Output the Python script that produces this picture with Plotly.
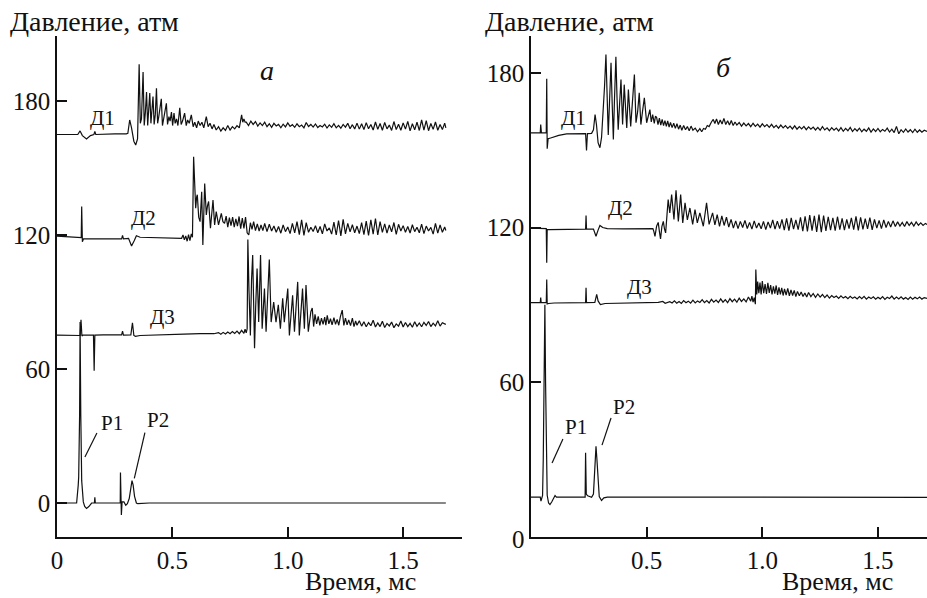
import plotly.graph_objects as go

# Pressure traces, (time in ms, pressure in atm)
# Panel "а"
a_d1 = [(0, 165), (0.09, 165), (0.1, 166.6), (0.11, 164.5), (0.128, 163), (0.145, 164.5), (0.16, 165),
        (0.164, 166.4), (0.168, 165), (0.2, 165.2), (0.25, 165.3), (0.30, 165.3), (0.307, 165.5),
        (0.315, 171.5), (0.323, 168), (0.333, 162), (0.341, 160.3), (0.349, 163), (0.356, 196.5),
        (0.361, 170), (0.366, 172), (0.373, 193), (0.378, 169), (0.383, 175), (0.388, 184), (0.393, 169),
        (0.398, 176), (0.402, 183.6), (0.407, 170), (0.412, 177), (0.416, 182), (0.421, 169.5),
        (0.426, 174), (0.431, 185.7), (0.436, 170), (0.441, 173), (0.446, 176), (0.452, 181), (0.457, 169),
        (0.462, 172), (0.468, 175), (0.474, 179), (0.479, 169.5), (0.485, 173), (0.49, 171), (0.496, 175),
        (0.501, 169), (0.507, 174.6), (0.512, 170), (0.518, 172), (0.524, 169), (0.532, 177),
        (0.538, 169.5), (0.544, 171), (0.553, 174.6), (0.56, 169), (0.566, 171.5), (0.573, 170),
        (0.582, 173.8), (0.59, 168.5), (0.597, 170.5), (0.605, 168), (0.612, 171), (0.62, 169),
        (0.628, 170.5), (0.636, 168), (0.647, 173), (0.655, 168.5), (0.663, 170), (0.672, 167.5),
        (0.68, 169.5), (0.69, 167), (0.70, 168.5), (0.71, 166.5), (0.72, 168), (0.73, 166.8), (0.74, 169),
        (0.75, 167), (0.76, 168.5), (0.77, 167.5), (0.78, 169), (0.79, 168), (0.80, 173.8), (0.805, 170.5),
        (0.81, 172), (0.815, 170.5), (0.82, 170.5), (0.83, 169), (0.84, 171), (0.85, 169.5), (0.86, 170.8),
        (0.87, 168.8), (0.88, 170.2), (0.89, 169), (0.90, 170.5), (0.91, 168.5), (0.92, 169.8),
        (0.93, 168.2), (0.94, 170), (0.95, 168.8), (0.96, 169.5), (0.97, 168), (0.98, 169.6), (0.99, 168.4),
        (1.00, 170.2), (1.01, 168.6), (1.02, 169.4), (1.03, 168.2), (1.04, 169.8), (1.05, 168.5),
        (1.06, 169.2), (1.07, 168), (1.08, 170.4), (1.09, 168.6), (1.10, 169.5), (1.11, 168.3),
        (1.12, 169.7), (1.13, 168.1), (1.14, 169), (1.15, 168.4), (1.16, 169.6), (1.17, 167.9),
        (1.18, 169.3), (1.19, 168.2), (1.20, 169.8), (1.21, 168), (1.22, 169.1), (1.23, 167.8),
        (1.24, 169.5), (1.25, 168.3), (1.26, 170), (1.27, 167.6), (1.28, 169.4), (1.29, 167.5),
        (1.30, 170.1), (1.31, 167.4), (1.32, 169.8), (1.33, 167.2), (1.34, 170.3), (1.35, 167.6),
        (1.36, 169.5), (1.37, 167), (1.38, 170.6), (1.39, 167.3), (1.40, 169.9), (1.41, 166.9),
        (1.42, 170.4), (1.43, 167.5), (1.44, 169.2), (1.45, 166.8), (1.46, 170.8), (1.47, 167.2),
        (1.48, 169.6), (1.49, 166.9), (1.50, 170.2), (1.51, 167.4), (1.52, 170.9), (1.53, 166.6),
        (1.54, 169.8), (1.55, 167.1), (1.56, 170.5), (1.57, 166.8), (1.58, 171.5), (1.59, 167),
        (1.60, 171.2), (1.61, 166.7), (1.62, 169.9), (1.63, 167.3), (1.64, 170.6), (1.65, 166.9),
        (1.66, 169.5), (1.67, 167.2), (1.68, 170.1), (1.685, 168)]

a_d2 = [(0, 119.5), (0.1, 118.8), (0.105, 118.8), (0.107, 132.7), (0.11, 117), (0.115, 118.3),
        (0.2, 118.2), (0.28, 118.3), (0.284, 119.8), (0.288, 118.3), (0.31, 118.5), (0.323, 115.1),
        (0.335, 117.5), (0.344, 119.7), (0.36, 119), (0.4, 118.9), (0.45, 118.7), (0.5, 118.6),
        (0.54, 118.5), (0.546, 120), (0.552, 117.8), (0.558, 119.6), (0.564, 117.2), (0.57, 120.2),
        (0.576, 117.5), (0.582, 120.5), (0.587, 119), (0.592, 155), (0.596, 140), (0.601, 132),
        (0.605, 137), (0.608, 138), (0.614, 128), (0.62, 126), (0.627, 139.4), (0.632, 115.5),
        (0.64, 143), (0.647, 129), (0.652, 133), (0.657, 135), (0.665, 123), (0.676, 135.7),
        (0.683, 124.5), (0.69, 130.5), (0.70, 124.5), (0.706, 127), (0.712, 129.7), (0.719, 126),
        (0.726, 125.2), (0.733, 128.5), (0.74, 123.5), (0.747, 127.8), (0.754, 124.2), (0.761, 128),
        (0.768, 123.5), (0.775, 127.2), (0.782, 124), (0.789, 128.3), (0.796, 122.8), (0.803, 127.6),
        (0.81, 123), (0.817, 128), (0.824, 121), (0.831, 120), (0.838, 125.5), (0.845, 122.5),
        (0.852, 126), (0.86, 122), (0.868, 125), (0.876, 121.8), (0.884, 124.5), (0.892, 122),
        (0.9, 125.2), (0.91, 121.5), (0.92, 124.8), (0.93, 121.8), (0.94, 124), (0.95, 121.2),
        (0.96, 123.8), (0.97, 120.8), (0.98, 124.5), (0.99, 121.5), (1.00, 123.6), (1.01, 120.6),
        (1.02, 125.2), (1.03, 121), (1.04, 126), (1.05, 120.2), (1.06, 126.8), (1.07, 119.8),
        (1.08, 125.5), (1.09, 121.2), (1.10, 123.5), (1.11, 121.6), (1.12, 124.2), (1.13, 121),
        (1.14, 123.8), (1.15, 120.5), (1.16, 125), (1.17, 121.8), (1.18, 123.2), (1.19, 120.4),
        (1.20, 125.8), (1.21, 120), (1.22, 126.5), (1.23, 119.6), (1.24, 127), (1.25, 120.5),
        (1.26, 125.2), (1.27, 121.4), (1.28, 124.6), (1.29, 121), (1.30, 124), (1.31, 120.6),
        (1.32, 125.5), (1.33, 120.2), (1.34, 126.2), (1.35, 119.8), (1.36, 126.8), (1.37, 120.4),
        (1.38, 127.4), (1.39, 120), (1.40, 126), (1.41, 121.2), (1.42, 125), (1.43, 120.8),
        (1.44, 124.5), (1.45, 121.4), (1.46, 125.6), (1.47, 120.3), (1.48, 124.8), (1.49, 121.8),
        (1.50, 124.2), (1.51, 121.2), (1.52, 123.8), (1.53, 120.9), (1.54, 124.6), (1.55, 121.5),
        (1.56, 123.5), (1.57, 121), (1.58, 124.9), (1.59, 120.6), (1.60, 124), (1.61, 121.8),
        (1.62, 123.4), (1.63, 120.4), (1.64, 125.2), (1.65, 120.8), (1.66, 124.5), (1.67, 121.2),
        (1.68, 123.6), (1.685, 122)]

a_d3 = [(0, 75.2), (0.095, 75.2), (0.1, 75), (0.104, 82), (0.108, 74.8), (0.112, 75.2), (0.158, 75.2),
        (0.161, 59.2), (0.164, 75.2), (0.2, 75.3), (0.28, 75.3), (0.284, 77), (0.288, 75.2), (0.32, 75.3),
        (0.327, 80.7), (0.333, 75), (0.34, 74.6), (0.36, 75), (0.45, 75.4), (0.55, 75.6), (0.62, 75.8),
        (0.68, 75.8), (0.7, 76.3), (0.71, 75.6), (0.72, 76.4), (0.73, 75.7), (0.74, 76.6), (0.75, 75.8),
        (0.76, 76.8), (0.77, 75.9), (0.78, 77), (0.79, 75.8), (0.80, 77.3), (0.81, 76), (0.815, 77.8),
        (0.82, 76.2), (0.824, 78), (0.827, 118), (0.832, 95), (0.838, 75), (0.843, 100), (0.848, 111),
        (0.852, 90), (0.856, 69.3), (0.861, 88), (0.867, 105), (0.874, 81), (0.882, 111), (0.889, 78),
        (0.894, 90), (0.899, 96), (0.906, 76.7), (0.913, 95), (0.92, 109), (0.928, 81), (0.939, 90),
        (0.949, 81), (0.959, 88.7), (0.968, 78), (0.978, 91.7), (0.985, 81), (0.993, 89), (1.0, 96),
        (1.007, 75), (1.014, 86), (1.021, 93), (1.029, 76.7), (1.036, 88), (1.043, 99), (1.05, 75),
        (1.057, 87), (1.064, 96), (1.072, 78), (1.079, 97.6), (1.089, 76.7), (1.095, 83), (1.1, 85.7),
        (1.106, 87.3), (1.112, 79), (1.118, 84.5), (1.125, 80.2), (1.132, 83.6), (1.139, 79.5),
        (1.146, 82.8), (1.153, 80), (1.16, 83.2), (1.165, 79.6), (1.171, 84), (1.178, 80.2),
        (1.185, 82.5), (1.192, 79.8), (1.2, 83), (1.207, 80), (1.214, 82.2), (1.221, 79.6),
        (1.228, 83.5), (1.236, 86.4), (1.243, 79.5), (1.25, 82.8), (1.257, 79.8), (1.264, 82),
        (1.272, 79.4), (1.28, 82.8), (1.287, 79), (1.294, 81.5), (1.3, 79.6), (1.31, 81.6), (1.32, 79.2),
        (1.33, 81.2), (1.34, 78.9), (1.35, 80.8), (1.36, 79.4), (1.37, 81.8), (1.38, 78.8), (1.39, 80.6),
        (1.40, 79), (1.41, 81.4), (1.42, 78.6), (1.43, 80.4), (1.44, 79.3), (1.45, 81), (1.46, 78.5),
        (1.47, 80.2), (1.48, 79.2), (1.49, 81.5), (1.50, 78.8), (1.51, 80.8), (1.52, 79), (1.53, 80.4),
        (1.54, 78.7), (1.55, 81.2), (1.56, 79.1), (1.57, 80.6), (1.58, 78.9), (1.59, 80.9), (1.60, 79.5),
        (1.61, 81.3), (1.62, 79), (1.63, 80.5), (1.64, 79.3), (1.65, 81.6), (1.66, 79.2), (1.67, 80.7),
        (1.68, 80.2), (1.685, 80)]

a_p = [(0, 0), (0.085, 0), (0.092, 8), (0.094, 11.7), (0.098, 40), (0.1, 81), (0.103, 40), (0.107, 10),
       (0.114, 0.5), (0.12, -1.5), (0.128, -2.4), (0.138, -1.6), (0.15, 0), (0.162, 0), (0.164, 2.5),
       (0.166, 0), (0.2, 0), (0.274, 0), (0.275, 13.7), (0.278, 0), (0.279, -5.4), (0.282, 0.5),
       (0.29, 0.5), (0.298, -1), (0.305, -0.3), (0.313, 2), (0.319, 7), (0.325, 10), (0.33, 8),
       (0.336, 3), (0.344, 0), (0.35, -0.3), (0.4, 0), (0.6, 0), (0.8, 0.2), (1.0, -0.1), (1.2, 0),
       (1.4, 0.1), (1.6, -0.1), (1.685, 0)]

# Panel "б"
b_d1 = [(0, 156.8), (0.04, 156.8), (0.042, 160), (0.045, 156.8), (0.066, 156.8), (0.068, 177.8),
        (0.07, 150.6), (0.074, 154.5), (0.085, 154.8), (0.1, 155.2), (0.12, 155.8), (0.154, 156.4),
        (0.2, 156.5), (0.236, 156.5), (0.24, 149.9), (0.244, 156.5), (0.262, 156.6), (0.27, 158),
        (0.277, 163.9), (0.283, 160), (0.29, 153), (0.298, 151), (0.305, 155), (0.312, 165), (0.318, 175),
        (0.324, 187.2), (0.329, 170), (0.334, 156), (0.34, 170), (0.346, 184), (0.351, 168),
        (0.356, 154.2), (0.361, 170), (0.367, 186.3), (0.372, 170), (0.377, 158), (0.383, 168),
        (0.389, 177.5), (0.396, 160), (0.403, 175.5), (0.414, 158.7), (0.421, 173.6), (0.431, 159.3),
        (0.437, 166), (0.447, 179.4), (0.454, 160.7), (0.461, 165), (0.468, 172.3), (0.475, 160),
        (0.482, 165), (0.49, 170.4), (0.5, 160.7), (0.507, 164), (0.514, 165.8), (0.52, 161),
        (0.526, 163.9), (0.533, 160.5), (0.538, 163.2), (0.543, 162.8), (0.549, 160), (0.555, 162.5),
        (0.561, 159.8), (0.567, 162), (0.573, 159.6), (0.579, 161.5), (0.585, 159.3), (0.591, 161.4),
        (0.597, 159), (0.603, 160.8), (0.61, 158.8), (0.617, 160.5), (0.624, 158.5), (0.631, 160.3),
        (0.638, 158.2), (0.645, 159.8), (0.652, 157.8), (0.66, 159.6), (0.668, 158), (0.676, 159.2),
        (0.684, 157.6), (0.692, 159.4), (0.7, 157.8), (0.71, 158.6), (0.72, 157.2), (0.73, 158.4),
        (0.738, 157.2), (0.746, 158.5), (0.754, 158.2), (0.762, 159.6), (0.77, 159.2), (0.78, 161),
        (0.788, 162), (0.795, 160.4), (0.802, 162.2), (0.81, 160), (0.818, 161.8), (0.826, 160.2),
        (0.834, 162.4), (0.842, 160), (0.85, 161.5), (0.858, 159.8), (0.866, 161.6), (0.874, 159.6),
        (0.882, 161), (0.89, 159.8), (0.9, 160.8), (0.91, 159.4), (0.92, 160.6), (0.93, 159.5),
        (0.94, 160.4), (0.95, 159.2), (0.96, 160.5), (0.97, 159.3), (0.98, 160.2), (0.99, 159),
        (1.00, 160.3), (1.01, 159.2), (1.02, 160), (1.03, 158.9), (1.04, 160.1), (1.05, 158.8),
        (1.06, 159.7), (1.07, 158.6), (1.08, 159.8), (1.09, 158.7), (1.10, 159.6), (1.11, 158.5),
        (1.12, 159.4), (1.13, 158.3), (1.14, 159.5), (1.15, 158.2), (1.16, 159.2), (1.17, 158.3),
        (1.18, 159.3), (1.19, 158), (1.20, 159.1), (1.21, 158.2), (1.22, 159), (1.23, 157.9),
        (1.24, 158.9), (1.25, 157.8), (1.26, 159.2), (1.27, 157.9), (1.28, 158.7), (1.29, 157.6),
        (1.30, 158.8), (1.31, 157.8), (1.32, 158.6), (1.33, 157.5), (1.34, 158.8), (1.35, 157.4),
        (1.36, 158.5), (1.37, 157.6), (1.38, 158.9), (1.39, 157.3), (1.40, 158.4), (1.41, 157.5),
        (1.42, 158.6), (1.43, 157.2), (1.44, 158.2), (1.45, 157.4), (1.46, 158.7), (1.47, 157.1),
        (1.48, 158.3), (1.49, 157.3), (1.50, 158.5), (1.51, 157.2), (1.52, 158.1), (1.53, 157.4),
        (1.54, 158.6), (1.55, 157.1), (1.56, 158.2), (1.57, 156.9), (1.58, 159.3), (1.59, 156.4),
        (1.60, 158), (1.61, 157), (1.62, 158.3), (1.63, 157.1), (1.64, 158), (1.65, 156.9),
        (1.66, 158.2), (1.67, 157), (1.68, 157.9), (1.69, 157), (1.70, 157.8), (1.712, 157.3)]

b_d2 = [(0, 119.8), (0.064, 119.6), (0.066, 119.6), (0.068, 106.3), (0.07, 119.2), (0.08, 119.2),
        (0.236, 119.4), (0.238, 124.7), (0.24, 119.4), (0.27, 119.4), (0.276, 118), (0.281, 116.6),
        (0.29, 119), (0.298, 120.8), (0.31, 120), (0.33, 119.6), (0.4, 119.5), (0.48, 119.4),
        (0.527, 119.6), (0.531, 118.5), (0.536, 116.6), (0.543, 120.5), (0.55, 122), (0.555, 118.5),
        (0.56, 115.6), (0.566, 120.5), (0.572, 122.4), (0.577, 119.5), (0.582, 117.9), (0.588, 125),
        (0.593, 130.9), (0.6, 125.7), (0.608, 132.8), (0.618, 123.1), (0.627, 134.5), (0.637, 122.4),
        (0.647, 132.8), (0.656, 121.8), (0.666, 129.6), (0.676, 123), (0.687, 127.6), (0.699, 121.2),
        (0.709, 127), (0.719, 121.8), (0.73, 125.7), (0.745, 120.5), (0.759, 129.6), (0.77, 121.2),
        (0.785, 125.7), (0.795, 121), (0.805, 125), (0.815, 120.5), (0.825, 124.5), (0.835, 120.8),
        (0.845, 124), (0.855, 120.2), (0.865, 123.2), (0.875, 119.8), (0.885, 122.6), (0.895, 119.6),
        (0.905, 122.4), (0.915, 120), (0.925, 122.8), (0.935, 119.6), (0.945, 122), (0.955, 119.4),
        (0.965, 122.6), (0.975, 119.8), (0.985, 121.8), (0.995, 119.5), (1.005, 122.4), (1.015, 119.2),
        (1.025, 122.2), (1.035, 119.8), (1.045, 123), (1.055, 119.4), (1.065, 122.5), (1.075, 119.6),
        (1.085, 123.2), (1.095, 119), (1.105, 123.6), (1.115, 118.8), (1.125, 123.8), (1.135, 119.4),
        (1.145, 123), (1.155, 119.2), (1.165, 124), (1.175, 118.6), (1.185, 124.4), (1.195, 118.5),
        (1.205, 124.8), (1.215, 118.8), (1.225, 124.5), (1.235, 118.3), (1.245, 125), (1.255, 118.2),
        (1.265, 124.6), (1.275, 118.7), (1.285, 124.2), (1.295, 119), (1.305, 123.8), (1.315, 118.8),
        (1.325, 124.2), (1.335, 119.2), (1.345, 123.6), (1.355, 119), (1.365, 123.2), (1.375, 119.6),
        (1.385, 123.8), (1.395, 119.2), (1.405, 124.3), (1.415, 118.9), (1.425, 124), (1.435, 119.3),
        (1.445, 123.5), (1.455, 119.5), (1.465, 123.9), (1.475, 119.1), (1.485, 123.2), (1.495, 119.8),
        (1.505, 122.8), (1.515, 119.6), (1.525, 123), (1.535, 120), (1.545, 122.4), (1.555, 120.2),
        (1.565, 122.6), (1.575, 120.4), (1.585, 122.2), (1.595, 120.6), (1.605, 122), (1.615, 120.4),
        (1.625, 122.3), (1.635, 120.8), (1.645, 122), (1.655, 120.6), (1.665, 122.2), (1.675, 120.9),
        (1.685, 121.8), (1.695, 120.8), (1.705, 121.6), (1.712, 121.2)]

b_d3 = [(0, 90.8), (0.04, 90.8), (0.042, 92.8), (0.044, 90.8), (0.066, 90.8), (0.068, 99.8), (0.07, 90.3),
        (0.076, 90.5), (0.1, 90.7), (0.236, 90.8), (0.238, 96.6), (0.24, 90.8), (0.276, 90.9),
        (0.284, 94), (0.29, 91.5), (0.3, 90.1), (0.32, 90.5), (0.4, 90.6), (0.5, 90.8), (0.55, 90.9),
        (0.57, 91.3), (0.58, 90.6), (0.6, 91.2), (0.61, 90.7), (0.62, 91.5), (0.63, 90.6), (0.64, 91.3),
        (0.65, 90.5), (0.66, 91.6), (0.67, 90.8), (0.68, 91.4), (0.69, 90.6), (0.70, 91.8), (0.71, 90.7),
        (0.72, 91.5), (0.73, 90.9), (0.74, 92), (0.75, 90.8), (0.76, 91.6), (0.77, 90.7), (0.78, 92.1),
        (0.79, 91), (0.80, 91.8), (0.81, 90.9), (0.82, 92.3), (0.83, 91), (0.84, 92), (0.85, 90.8),
        (0.86, 92.4), (0.87, 91.2), (0.88, 92.2), (0.89, 91), (0.90, 92.6), (0.91, 91.3), (0.92, 92.3),
        (0.93, 91.1), (0.94, 93), (0.95, 91.4), (0.955, 93.4), (0.96, 91), (0.965, 92.8), (0.97, 90.2),
        (0.972, 103.7), (0.976, 94), (0.98, 99), (0.985, 94.5), (0.99, 98.6), (0.995, 94), (1.0, 99.2),
        (1.006, 94.5), (1.012, 98), (1.018, 94.2), (1.024, 98.5), (1.03, 94.6), (1.036, 97.6),
        (1.042, 94), (1.048, 97.2), (1.054, 94.3), (1.06, 97.5), (1.066, 93.8), (1.072, 96.8),
        (1.078, 94), (1.084, 96.6), (1.09, 93.6), (1.096, 96.2), (1.103, 93.8), (1.11, 96.4),
        (1.117, 93.5), (1.124, 95.8), (1.131, 93.6), (1.138, 95.6), (1.145, 93.2), (1.152, 95.2),
        (1.16, 93.5), (1.168, 95), (1.176, 93.2), (1.184, 94.6), (1.192, 93), (1.2, 94.8), (1.21, 93.2),
        (1.22, 94.4), (1.23, 92.9), (1.24, 94.2), (1.25, 93), (1.26, 94), (1.27, 92.8), (1.28, 93.8),
        (1.29, 92.6), (1.30, 93.6), (1.31, 92.8), (1.32, 93.4), (1.33, 92.5), (1.34, 93.5), (1.35, 92.6),
        (1.36, 93.2), (1.37, 92.4), (1.38, 93.3), (1.39, 92.5), (1.40, 93), (1.41, 92.3), (1.42, 93.2),
        (1.43, 92.4), (1.44, 93.3), (1.45, 92.2), (1.46, 93), (1.47, 92.4), (1.48, 93.1), (1.49, 92.2),
        (1.50, 92.9), (1.51, 92.3), (1.52, 93.2), (1.53, 92.1), (1.54, 92.9), (1.55, 92.4), (1.56, 93.4),
        (1.57, 92.2), (1.58, 93), (1.59, 92.3), (1.60, 93.1), (1.61, 92.2), (1.62, 92.8), (1.63, 92.1),
        (1.64, 93), (1.65, 92.2), (1.66, 92.9), (1.67, 92.3), (1.68, 93), (1.69, 92.2), (1.70, 92.8),
        (1.712, 92.5)]

b_p = [(0, 15.3), (0.04, 15.3), (0.043, 13.7), (0.05, 16), (0.053, 30), (0.057, 70), (0.06, 90),
       (0.063, 60), (0.067, 30), (0.07, 16), (0.076, 13), (0.082, 12.4), (0.09, 13.5), (0.1, 15.4),
       (0.104, 15.9), (0.11, 15.3), (0.234, 15.3), (0.236, 32.5), (0.239, 16.5), (0.245, 15.8),
       (0.255, 15.6), (0.262, 15.2), (0.27, 16.5), (0.275, 24), (0.281, 35), (0.285, 30), (0.29, 20),
       (0.295, 15.5), (0.305, 14), (0.315, 15), (0.33, 15.3), (0.5, 15.3), (1.0, 15.2), (1.5, 15.3),
       (1.712, 15.2)]

# Trace labels: (text, time, pressure)
a_labels = [("Д1", 0.199, 172.4), ("Д2", 0.373, 127.6), ("Д3", 0.459, 83.3),
            ("P1", 0.238, 35.8), ("P2", 0.438, 37.2)]
b_labels = [("Д1", 0.182, 162.5), ("Д2", 0.385, 127.6), ("Д3", 0.467, 96.9),
            ("P1", 0.195, 42.5), ("P2", 0.402, 50.3)]
# Leader lines from labels to peaks: (t0, p0, t1, p1)
a_leaders = [(0.173, 31.3, 0.121, 20.6), (0.381, 31.5, 0.335, 11.0)]
b_leaders = [(0.138, 37.9, 0.091, 28.5), (0.346, 46.0, 0.307, 35.5)]

a_yticks = [0, 60, 120, 180]
b_yticks = [60, 120, 180]
xticks = [0.5, 1.0, 1.5]

SERIF = "Liberation Serif"
INK = "#111111"
W, H = 927, 598

fig = go.Figure()

def add_traces(series, xa, ya):
    for s in series:
        t, p = zip(*s)
        fig.add_trace(go.Scatter(x=list(t), y=list(p), mode="lines",
                                 line=dict(color=INK, width=1.2),
                                 xaxis=xa, yaxis=ya, showlegend=False,
                                 hoverinfo="skip"))

add_traces([a_d1, a_d2, a_d3, a_p], "x", "y")
add_traces([b_d1, b_d2, b_d3, b_p], "x2", "y2")

def px_x(v):
    return v / W

def px_y(v):
    return 1 - v / H

axis_common = dict(showgrid=False, zeroline=False, showline=True, linecolor=INK,
                   linewidth=1.6, ticks="inside", ticklen=10, tickwidth=1.5,
                   tickcolor=INK, automargin=False,
                   tickfont=dict(family=SERIF, size=25, color=INK))

fig.update_layout(
    width=W, height=H,
    margin=dict(l=0, r=0, t=0, b=0),
    paper_bgcolor="white", plot_bgcolor="white",
    font=dict(family=SERIF, color=INK),
    xaxis=dict(axis_common, domain=[px_x(57), px_x(462)], range=[0, 1.755],
               tickvals=[0] + xticks, ticktext=["0", "0.5", "1.0", "1.5"],
               anchor="y"),
    yaxis=dict(axis_common, domain=[px_y(537), px_y(36)], range=[-15.22, 209.1],
               tickvals=a_yticks, anchor="x"),
    xaxis2=dict(axis_common, domain=[px_x(531), 1.0], range=[0, 1.712],
                tickvals=xticks, ticktext=["0.5", "1.0", "1.5"], anchor="y2"),
    yaxis2=dict(axis_common, domain=[px_y(537), px_y(36)], range=[-0.2, 194.4],
                tickvals=b_yticks, anchor="x2"),
)

ann = []
for text, t, p in a_labels:
    ann.append(dict(x=t, y=p, xref="x", yref="y", text=text, showarrow=False,
                    font=dict(family=SERIF, size=21, color=INK)))
for text, t, p in b_labels:
    ann.append(dict(x=t, y=p, xref="x2", yref="y2", text=text, showarrow=False,
                    font=dict(family=SERIF, size=21, color=INK)))

# Axis titles and panel letters
for x0 in (8, 483):
    ann.append(dict(x=px_x(x0), y=px_y(22), xref="paper", yref="paper", xanchor="left",
                    yanchor="middle", text="Давление, атм", showarrow=False,
                    font=dict(family=SERIF, size=28, color=INK)))
for x1 in (418, 895):
    ann.append(dict(x=px_x(x1), y=0, xref="paper", yref="paper", xanchor="right",
                    yanchor="bottom", text="Время, мс", showarrow=False,
                    font=dict(family=SERIF, size=26, color=INK)))
ann.append(dict(x=px_x(258), y=px_y(53), xref="paper", yref="paper", text="<i>а</i>",
                showarrow=False, font=dict(family=SERIF, size=28, color=INK)))
ann.append(dict(x=px_x(733), y=px_y(50), xref="paper", yref="paper", text="<i>б</i>",
                showarrow=False, font=dict(family=SERIF, size=28, color=INK)))
ann.append(dict(x=px_x(518), y=px_y(555), xref="paper", yref="paper", text="0",
                showarrow=False, font=dict(family=SERIF, size=25, color=INK)))
fig.update_layout(annotations=ann)

shapes = []
for t0, p0, t1, p1 in a_leaders:
    shapes.append(dict(type="line", x0=t0, y0=p0, x1=t1, y1=p1, xref="x", yref="y",
                       line=dict(color=INK, width=1.2)))
for t0, p0, t1, p1 in b_leaders:
    shapes.append(dict(type="line", x0=t0, y0=p0, x1=t1, y1=p1, xref="x2", yref="y2",
                       line=dict(color=INK, width=1.2)))
fig.update_layout(shapes=shapes)

fig.write_html("out.html")
